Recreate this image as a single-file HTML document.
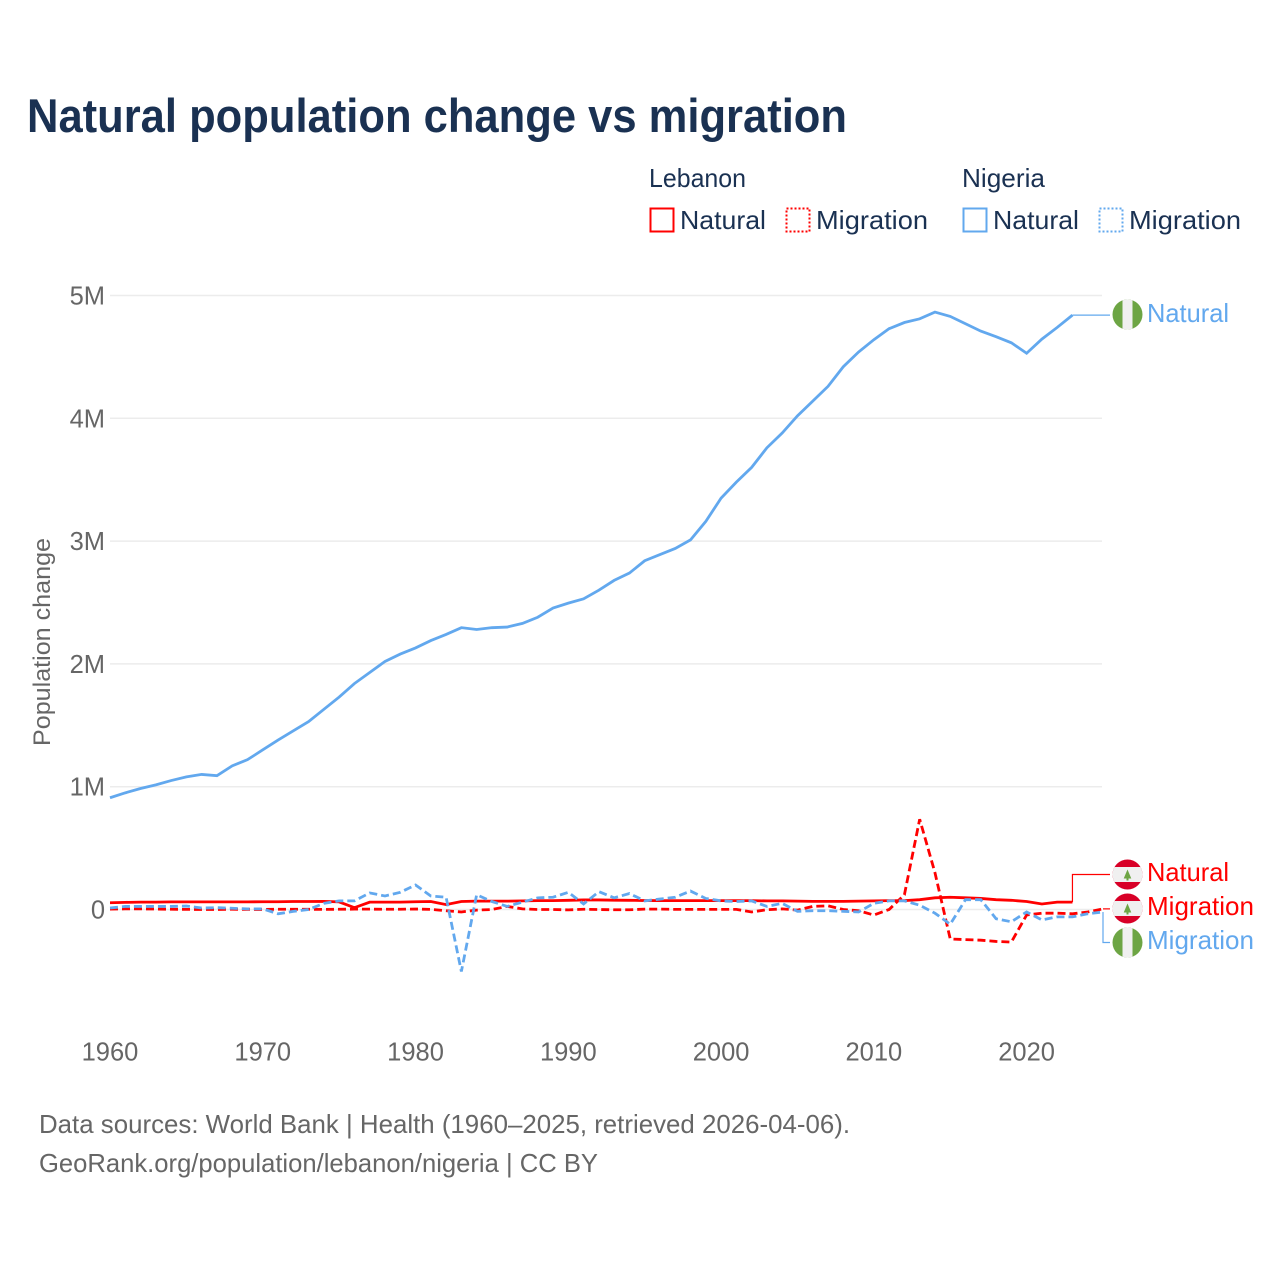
<!DOCTYPE html>
<html lang="en">
<head>
<meta charset="utf-8">
<title>Natural population change vs migration</title>
<style>
html,body{margin:0;padding:0;background:#fff;width:1280px;height:1280px;overflow:hidden}
svg{display:block;font-family:"Liberation Sans",sans-serif}
</style>
</head>
<body>
<svg id="chart" xmlns="http://www.w3.org/2000/svg" width="1280" height="1280" viewBox="0 0 1280 1280">
  <rect x="0" y="0" width="1280" height="1280" fill="#fff"/>
  <text x="27" y="132" font-size="47" font-weight="700" fill="#1a3152" textLength="820" lengthAdjust="spacingAndGlyphs">Natural population change vs migration</text>

  <g font-size="26" fill="#1a3152">
    <text x="649" y="187" textLength="97" lengthAdjust="spacingAndGlyphs">Lebanon</text>
    <text x="962" y="187" textLength="83" lengthAdjust="spacingAndGlyphs">Nigeria</text>
    <rect x="650.5" y="208.5" width="23" height="23" fill="none" stroke="#ff0000" stroke-width="2"/>
    <text x="680" y="229" textLength="86" lengthAdjust="spacingAndGlyphs">Natural</text>
    <rect x="786.5" y="208.5" width="23" height="23" fill="none" stroke="#ff0000" stroke-width="2" stroke-dasharray="2 2"/>
    <text x="816" y="229" textLength="112" lengthAdjust="spacingAndGlyphs">Migration</text>
    <rect x="963.5" y="208.5" width="23" height="23" fill="none" stroke="#62a8ee" stroke-width="2"/>
    <text x="993" y="229" textLength="86" lengthAdjust="spacingAndGlyphs">Natural</text>
    <rect x="1099.5" y="208.5" width="23" height="23" fill="none" stroke="#62a8ee" stroke-width="2" stroke-dasharray="2 2"/>
    <text x="1129" y="229" textLength="112" lengthAdjust="spacingAndGlyphs">Migration</text>
  </g>

  <g id="grid"></g>
  <g id="yticks"></g>
  <g id="xticks"></g>
  <text transform="translate(50,642) rotate(-90)" text-anchor="middle" font-size="24" fill="#666" textLength="208" lengthAdjust="spacingAndGlyphs">Population change</text>
  <g id="series"></g>
  <g id="leaders" fill="none" stroke-width="1.2"></g>

  <defs>
    <clipPath id="flag-clip"><circle cx="0" cy="0" r="15"/></clipPath>
  </defs>

  <g transform="translate(1127.5,314.5)" clip-path="url(#flag-clip)">
    <rect x="-15" y="-15" width="30" height="30" fill="#6da544"/><rect x="-5" y="-15" width="10" height="30" fill="#f0f0f0"/>
  </g>
  <g transform="translate(1127.5,874.5)" clip-path="url(#flag-clip)">
    <rect x="-15" y="-15" width="30" height="30" fill="#d80027"/><rect x="-15" y="-7.5" width="30" height="15" fill="#f0f0f0"/>
    <path d="M0-5 L3.8 4 L1 4 L1 6 L-1 6 L-1 4 L-3.8 4Z" fill="#6da544"/>
  </g>
  <g transform="translate(1127.5,908.5)" clip-path="url(#flag-clip)">
    <rect x="-15" y="-15" width="30" height="30" fill="#d80027"/><rect x="-15" y="-7.5" width="30" height="15" fill="#f0f0f0"/>
    <path d="M0-5 L3.8 4 L1 4 L1 6 L-1 6 L-1 4 L-3.8 4Z" fill="#6da544"/>
  </g>
  <g transform="translate(1127.5,942.5)" clip-path="url(#flag-clip)">
    <rect x="-15" y="-15" width="30" height="30" fill="#6da544"/><rect x="-5" y="-15" width="10" height="30" fill="#f0f0f0"/>
  </g>

  <g font-size="26">
    <text x="1147" y="322" fill="#62a8ee" textLength="82" lengthAdjust="spacingAndGlyphs">Natural</text>
    <text x="1147" y="881" fill="#ff0000" textLength="82" lengthAdjust="spacingAndGlyphs">Natural</text>
    <text x="1147" y="915" fill="#ff0000" textLength="107" lengthAdjust="spacingAndGlyphs">Migration</text>
    <text x="1147" y="949" fill="#62a8ee" textLength="107" lengthAdjust="spacingAndGlyphs">Migration</text>
  </g>

  <g font-size="26" fill="#666">
    <text x="39" y="1133" textLength="811" lengthAdjust="spacingAndGlyphs">Data sources: World Bank | Health (1960–2025, retrieved 2026-04-06).</text>
    <text x="39" y="1172" textLength="559" lengthAdjust="spacingAndGlyphs">GeoRank.org/population/lebanon/nigeria | CC BY</text>
  </g>
</svg>
<script>
// Chart data, in millions of people. Series start at startYear.
const startYear = 1960;
const yTickValues = [0, 1, 2, 3, 4, 5];
const yTickLabels = ["0", "1M", "2M", "3M", "4M", "5M"];
const xTickValues = [1960, 1970, 1980, 1990, 2000, 2010, 2020];
const xTickLabels = ["1960", "1970", "1980", "1990", "2000", "2010", "2020"];

const lebanonNatural = [
  .055,.058,.06,.06,.062,.062,.062,.062,.062,.062,
  .063,.063,.065,.065,.066,.062,.015,.06,.06,.06,
  .063,.065,.04,.065,.068,.068,.068,.07,.072,.072,
  .075,.078,.078,.076,.075,.073,.072,.072,.072,.072,
  .072,.072,.072,.07,.07,.068,.066,.066,.066,.068,
  .07,.072,.072,.08,.095,.1,.095,.09,.08,.075,
  .065,.045,.06,.06
];
const lebanonMigration = [
  .003,.005,.005,.004,.002,.001,0,0,.002,.001,
  0,.002,.002,.002,.001,.002,.003,.003,.002,.002,
  .004,.001,-.01,-.02,-.005,0,.025,.005,0,0,
  -.003,.002,0,-.002,-.002,.003,.003,.001,.001,.001,
  .001,.001,-.02,-.002,.005,-.005,.025,.03,0,-.01,
  -.045,0,.12,.735,.3,-.24,-.245,-.25,-.26,-.265,
  -.045,-.03,-.03,-.035,-.02,.005
];
const nigeriaNatural = [
  .91,.95,.985,1.015,1.05,1.08,1.10,1.09,1.17,1.22,
  1.30,1.38,1.455,1.53,1.63,1.73,1.84,1.93,2.02,2.08,
  2.13,2.19,2.24,2.295,2.28,2.295,2.30,2.33,2.38,2.455,
  2.495,2.53,2.60,2.68,2.74,2.84,2.89,2.94,3.01,3.16,
  3.35,3.48,3.60,3.76,3.88,4.02,4.14,4.26,4.42,4.54,
  4.64,4.73,4.78,4.81,4.865,4.83,4.77,4.71,4.665,4.615,
  4.53,4.645,4.74,4.84
];
const nigeriaMigration = [
  .012,.025,.025,.025,.025,.028,.012,.015,.01,.005,
  .005,-.035,-.015,0,.05,.07,.07,.135,.11,.14,
  .2,.11,.1,-.505,.12,.065,.025,.06,.095,.1,
  .14,.045,.145,.095,.13,.07,.085,.1,.15,.09,
  .07,.065,.07,.025,.05,-.015,-.01,-.01,-.015,-.02,
  .05,.07,.07,.035,-.03,-.12,.08,.08,-.075,-.1,
  -.02,-.085,-.06,-.06,-.035,-.02
];

const SVGNS = "http://www.w3.org/2000/svg";
const xAxis = function (year) { return 110 + (year - 1960) * (1103 - 110) / 65; };
const yAxis = function (v) { return 909.5 - v * 122.8; };
const RED = "#ff0000";
const BLUE = "#62a8ee";

function make(tag, parent) {
  const el = document.createElementNS(SVGNS, tag);
  parent.appendChild(el);
  return el;
}

const grid = document.getElementById("grid");
const yticks = document.getElementById("yticks");
yTickValues.forEach(function (v, i) {
  const line = make("line", grid);
  
  
  line.setAttribute("x1", 110);
  line.setAttribute("x2", 1102);
  line.setAttribute("y1", yAxis(v));
  line.setAttribute("y2", yAxis(v));
  line.setAttribute("stroke", "#ececec");
  line.setAttribute("stroke-width", 1.5);
  const t = make("text", yticks);
  
  
  t.setAttribute("x", 105);
  t.setAttribute("y", yAxis(v) + 9);
  t.setAttribute("text-anchor", "end");
  t.setAttribute("font-size", 25.5);
  t.setAttribute("fill", "#666");
  t.textContent = yTickLabels[i];
});

const xticks = document.getElementById("xticks");
xTickValues.forEach(function (y, i) {
  const t = make("text", xticks);
  
  
  t.setAttribute("x", xAxis(y));
  t.setAttribute("y", 1060.5);
  t.setAttribute("text-anchor", "middle");
  t.setAttribute("font-size", 25.5);
  t.setAttribute("fill", "#666");
  t.textContent = xTickLabels[i];
});

function linePoints(values) {
  return values.map(function (v, i) {
    return xAxis(startYear + i).toFixed(2) + "," + yAxis(v).toFixed(2);
  }).join(" ");
}
function lastPoint(values) {
  const i = values.length - 1;
  return [xAxis(startYear + i), yAxis(values[i])];
}

const seriesGroup = document.getElementById("series");

const lineLebNat = make("polyline", seriesGroup);


lineLebNat.setAttribute("points", linePoints(lebanonNatural));
lineLebNat.setAttribute("fill", "none");
lineLebNat.setAttribute("stroke", RED);
lineLebNat.setAttribute("stroke-width", 2.8);

const lineLebMig = make("polyline", seriesGroup);


lineLebMig.setAttribute("points", linePoints(lebanonMigration));
lineLebMig.setAttribute("fill", "none");
lineLebMig.setAttribute("stroke", RED);
lineLebMig.setAttribute("stroke-width", 2.8);
lineLebMig.setAttribute("stroke-dasharray", "8 4");

const lineNigNat = make("polyline", seriesGroup);


lineNigNat.setAttribute("points", linePoints(nigeriaNatural));
lineNigNat.setAttribute("fill", "none");
lineNigNat.setAttribute("stroke", BLUE);
lineNigNat.setAttribute("stroke-width", 2.8);

const lineNigMig = make("polyline", seriesGroup);


lineNigMig.setAttribute("points", linePoints(nigeriaMigration));
lineNigMig.setAttribute("fill", "none");
lineNigMig.setAttribute("stroke", BLUE);
lineNigMig.setAttribute("stroke-width", 2.8);
lineNigMig.setAttribute("stroke-dasharray", "8 4");

const leaders = document.getElementById("leaders");

const a = lastPoint(nigeriaNatural);
const leadA = make("polyline", leaders);


leadA.setAttribute("stroke", BLUE);
leadA.setAttribute("points", a[0] + "," + a[1] + " 1110," + a[1]);

const b = lastPoint(lebanonNatural);
const leadB = make("polyline", leaders);


leadB.setAttribute("stroke", RED);
leadB.setAttribute("points", b[0] + "," + b[1] + " " + b[0] + ",874.5 1110,874.5");

const c = lastPoint(lebanonMigration);
const leadC = make("polyline", leaders);


leadC.setAttribute("stroke", RED);
leadC.setAttribute("points", c[0] + "," + c[1] + " 1110," + c[1]);

const d = lastPoint(nigeriaMigration);
const leadD = make("polyline", leaders);


leadD.setAttribute("stroke", BLUE);
leadD.setAttribute("points", d[0] + "," + d[1] + " " + d[0] + ",942.5 1110,942.5");
</script>
</body>
</html>
